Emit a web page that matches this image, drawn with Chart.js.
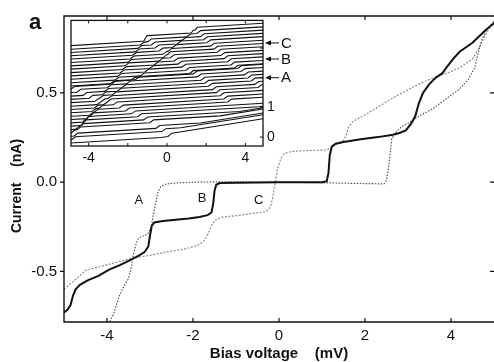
<!DOCTYPE html>
<html>
<head>
<meta charset="utf-8">
<script src="https://cdn.jsdelivr.net/npm/chart.js@4.4.1/dist/chart.umd.min.js"></script>
<style>
  html, body { margin: 0; padding: 0; background: #fff; }
  #wrap { position: relative; width: 494px; height: 362px; overflow: hidden; }
  #main { position: absolute; left: 0; top: 0; }
  #inset { position: absolute; left: 60px; top: 8px; }
</style>
</head>
<body>
<div id="wrap">
  <canvas id="main" width="494" height="362"></canvas>
  <canvas id="inset" width="240" height="162"></canvas>
</div>
<script>
// Main panel: three I-V traces, [bias mV, current nA]
const curveB = [[-5.0,-0.73],[-4.92,-0.715],[-4.85,-0.69],[-4.79,-0.635],[-4.73,-0.6],[-4.63,-0.575],[-4.45,-0.55],
  [-4.2,-0.525],[-3.95,-0.49],[-3.7,-0.465],[-3.45,-0.435],[-3.25,-0.41],[-3.12,-0.39],[-3.04,-0.36],[-3.0,-0.3],
  [-2.96,-0.245],[-2.9,-0.226],[-2.7,-0.218],[-2.4,-0.21],[-2.1,-0.203],[-1.85,-0.195],[-1.66,-0.185],[-1.57,-0.17],
  [-1.53,-0.12],[-1.5,-0.05],[-1.46,-0.015],[-1.38,-0.005],[-1.0,-0.003],[0.0,0.0],[1.0,0.0],[1.11,0.005],[1.15,0.05],
  [1.18,0.15],[1.23,0.2],[1.32,0.215],[1.5,0.225],[1.9,0.24],[2.3,0.252],[2.65,0.265],[2.8,0.275],[2.95,0.29],
  [3.08,0.33],[3.17,0.37],[3.25,0.44],[3.35,0.5],[3.5,0.55],[3.65,0.585],[3.8,0.61],[3.92,0.65],[4.05,0.69],
  [4.2,0.73],[4.5,0.78],[4.8,0.85],[5.0,0.89]];
const curveA = [[-4.0,-0.81],[-3.85,-0.74],[-3.72,-0.64],[-3.6,-0.58],[-3.5,-0.54],[-3.43,-0.47],[-3.38,-0.4],
  [-3.33,-0.35],[-3.27,-0.315],[-3.15,-0.3],[-3.05,-0.29],[-2.97,-0.25],[-2.92,-0.18],[-2.87,-0.12],[-2.82,-0.06],
  [-2.75,-0.025],[-2.62,-0.01],[-2.3,-0.003],[-1.5,0.002],[0,0.0],[1.1,-0.004],[2.0,-0.008],[2.44,-0.01],[2.5,0.01],
  [2.54,0.07],[2.58,0.15],[2.62,0.24],[2.7,0.275],[2.85,0.31],[3.0,0.33],[3.26,0.37],[3.57,0.41],[3.88,0.465],
  [4.19,0.52],[4.4,0.575],[4.55,0.64],[4.63,0.72],[4.72,0.8],[4.82,0.85],[5.0,0.9]];
const curveC = [[-5.0,-0.6],[-4.8,-0.56],[-4.5,-0.495],[-4.2,-0.475],[-3.8,-0.45],[-3.4,-0.425],[-3.0,-0.41],
  [-2.6,-0.39],[-2.2,-0.375],[-1.9,-0.355],[-1.75,-0.33],[-1.65,-0.29],[-1.55,-0.235],[-1.45,-0.205],[-1.3,-0.195],
  [-1.0,-0.188],[-0.6,-0.175],[-0.3,-0.165],[-0.2,-0.14],[-0.14,-0.08],[-0.09,0.0],[-0.03,0.08],[0.04,0.13],
  [0.12,0.16],[0.3,0.172],[0.7,0.177],[1.1,0.18],[1.2,0.19],[1.35,0.215],[1.5,0.235],[1.56,0.26],[1.62,0.31],
  [1.72,0.34],[2.1,0.39],[2.5,0.45],[2.9,0.505],[3.26,0.55],[3.65,0.59],[3.9,0.61],[4.2,0.64],[4.5,0.69],
  [4.65,0.75],[4.75,0.8],[4.85,0.845],[5.0,0.9]];

const biasTicks = [-4, -2, 0, 2, 4];
const currentTicks = [-0.5, 0.0, 0.5];
const curveNames = ['A', 'B', 'C'];
const curveNameAt = [[-3.26, -0.1], [-1.79, -0.094], [-0.47, -0.1]];

// Inset: 30 stacked traces, left-end level of each, plus where each one jogs up
const insetOffsets = [-0.20,-0.09,0.03,0.14,0.25,0.37,0.48,0.59,0.70,0.82,0.93,1.04,1.16,1.27,1.38,
  1.50,1.61,1.72,1.83,1.95,2.06,2.17,2.29,2.40,2.51,2.63,2.74,2.85,2.96,3.08];
const insetP1 = [null,-4.77,-4.64,-4.51,-4.38,-4.25,-4.12,-3.99,-3.86,-3.73,-3.60,-3.47,-3.34,-3.21,-3.08,
  -2.95,-2.82,-2.69,-2.56,-2.43,-2.30,-2.17,-2.04,-1.91,-1.78,-1.65,-1.52,-1.39,-1.26,-1.13];
const insetP2 = [null,null,null,-4.80,-4.57,-4.33,-4.10,-3.86,-3.62,-3.39,-3.15,-2.92,-2.68,-2.44,-2.21,
  -1.97,-1.74,-1.50,-1.26,-1.03,-0.79,-0.56,-0.32,-0.08,0.15,0.39,0.62,0.86,1.10,1.33];
const insetN1a = [null,null,null,null,null,null,null,null,null,null,4.75,4.58,4.40,4.23,4.05,
  3.88,3.71,3.53,3.36,3.19,3.01,2.84,2.66,2.49,2.32,2.14,1.97,1.80,1.62,1.45];
const insetN1b = [null,null,null,null,null,null,null,3.20,3.00,2.81,2.61,2.42,2.22,2.03,1.83,
  1.64,1.44,1.25,1.05,0.86,0.66,0.47,0.27,0.08,-0.12,-0.31,-0.51,-0.70,-0.90,-1.09];
const insetN2 = [0.15,-0.16,-0.47,-0.78,-1.09,-1.40,-1.71,-2.02,-2.33,-2.64,-2.95,-3.26,-3.57,-3.88,-4.19,
  -4.50,-4.81,null,null,null,null,null,null,null,null,null,null,null,null,null];
const insetKink = [-0.3,0.7,1.7,2.7,3.7,4.7,null,null,null,null,null,null,null,null,null,
  null,null,null,null,null,null,null,null,null,null,null,null,null,null,null];
const insetSlope = 0.04;
const insetStepHeight = 0.09;
const insetKinkSlope = 0.065;
const insetXMin = -4.9, insetXMax = 4.9;
const insetBiasTicks = [-4, 0, 4];
const insetLevelTicks = [0, 1];
const arrowNames = ['A', 'B', 'C'];
const arrowLevels = [2.0, 2.63, 3.17];

const FONT = '"Liberation Sans", Arial, Helvetica, sans-serif';
const INK = '#111';

function toPoints(pairs) {
  return pairs.map(p => ({ x: p[0], y: p[1] }));
}

function buildInsetCurve(k) {
  const steps = [insetP1[k], insetP2[k], insetN1a[k], insetN1b[k], insetN2[k]]
    .filter(v => v !== null && v > insetXMin && v < insetXMax);
  const kink = insetKink[k];
  const level = x => {
    let y = insetOffsets[k] + insetSlope * (x - insetXMin);
    steps.forEach(s => { if (x > s) y += insetStepHeight; });
    if (kink !== null && x > kink) y += insetKinkSlope * (x - kink);
    return y;
  };
  const xs = [insetXMin, insetXMax];
  steps.forEach(s => xs.push(s - 0.1, s + 0.1));
  if (kink !== null) xs.push(kink);
  return xs.filter(x => x >= insetXMin && x <= insetXMax)
    .sort((a, b) => a - b)
    .map(x => ({ x: x, y: level(x) }));
}

// frame, inward ticks and the text bits that Chart.js has no slot for
const mainExtras = {
  id: 'mainExtras',
  afterDraw(chart) {
    const { ctx, chartArea: a, scales: { x, y } } = chart;
    ctx.save();
    ctx.strokeStyle = INK;
    ctx.lineWidth = 1.4;
    ctx.beginPath();
    ctx.moveTo(a.right, a.top); ctx.lineTo(a.left, a.top);
    ctx.lineTo(a.left, a.bottom); ctx.lineTo(a.right, a.bottom);
    ctx.stroke();

    ctx.lineWidth = 1.2;
    ctx.beginPath();
    biasTicks.forEach(v => {
      const px = x.getPixelForValue(v);
      ctx.moveTo(px, a.bottom); ctx.lineTo(px, a.bottom - 4);
      ctx.moveTo(px, a.top); ctx.lineTo(px, a.top + 4);
    });
    currentTicks.forEach(v => {
      const py = y.getPixelForValue(v);
      ctx.moveTo(a.left - 4, py); ctx.lineTo(a.left, py);
      ctx.moveTo(a.right, py); ctx.lineTo(a.right - 4, py);
    });
    ctx.stroke();

    ctx.fillStyle = INK;
    ctx.font = '13px ' + FONT;
    ctx.textAlign = 'center';
    ctx.textBaseline = 'middle';
    curveNames.forEach((n, i) => {
      ctx.fillText(n, x.getPixelForValue(curveNameAt[i][0]), y.getPixelForValue(curveNameAt[i][1]));
    });

    ctx.font = 'bold 22px ' + FONT;
    ctx.textBaseline = 'alphabetic';
    ctx.fillText('a', 35, 29);

    ctx.translate(17.5, 186);
    ctx.rotate(-Math.PI / 2);
    ctx.font = 'bold 14px ' + FONT;
    ctx.textBaseline = 'middle';
    ctx.fillText('Current    (nA)', 0, 0);
    ctx.restore();
  }
};

const insetExtras = {
  id: 'insetExtras',
  afterDraw(chart) {
    const { ctx, chartArea: a, scales: { x, y } } = chart;
    ctx.save();
    ctx.strokeStyle = INK;
    ctx.lineWidth = 1.3;
    ctx.strokeRect(a.left, a.top, a.right - a.left, a.bottom - a.top);

    ctx.lineWidth = 1;
    ctx.beginPath();
    [-4, -2, 0, 2, 4].forEach(v => {
      const px = x.getPixelForValue(v);
      ctx.moveTo(px, a.bottom); ctx.lineTo(px, a.bottom - 3);
      ctx.moveTo(px, a.top); ctx.lineTo(px, a.top + 3);
    });
    [0, 1, 2, 3].forEach(v => {
      const py = y.getPixelForValue(v);
      ctx.moveTo(a.right, py); ctx.lineTo(a.right - 3, py);
    });
    ctx.stroke();

    ctx.fillStyle = INK;
    ctx.font = '15px ' + FONT;
    ctx.textAlign = 'left';
    ctx.textBaseline = 'middle';
    arrowNames.forEach((n, i) => {
      const py = y.getPixelForValue(arrowLevels[i]);
      const x0 = a.right + 2;
      ctx.beginPath();
      ctx.moveTo(x0 + 4, py); ctx.lineTo(x0 + 14, py);
      ctx.stroke();
      ctx.beginPath();
      ctx.moveTo(x0, py); ctx.lineTo(x0 + 6, py - 2.6); ctx.lineTo(x0 + 6, py + 2.6);
      ctx.closePath();
      ctx.fill();
      ctx.fillText(n, x0 + 16, py + 0.5);
    });
    ctx.restore();
  }
};

const tickFont = size => ({ family: FONT, size: size });
const noGrid = { display: false, drawTicks: false };

new Chart(document.getElementById('main'), {
  type: 'line',
  data: {
    datasets: [
      { label: 'B', data: toPoints(curveB), borderColor: '#111', borderWidth: 2 },
      { label: 'A', data: toPoints(curveA), borderColor: '#555', borderWidth: 1.2, borderDash: [1.5, 1.5] },
      { label: 'C', data: toPoints(curveC), borderColor: '#8c8c8c', borderWidth: 1.2, borderDash: [2, 1.5] }
    ]
  },
  options: {
    responsive: false,
    devicePixelRatio: 1,
    animation: false,
    layout: { padding: { top: 13, left: 0, right: 0, bottom: 0 } },
    elements: { point: { radius: 0 }, line: { tension: 0 } },
    plugins: { legend: { display: false }, tooltip: { enabled: false } },
    scales: {
      x: {
        type: 'linear', min: -5, max: 5,
        grid: noGrid, border: { display: false },
        afterBuildTicks: s => { s.ticks = biasTicks.map(v => ({ value: v })); },
        afterFit: s => { s.height = 40; },
        ticks: { padding: 5, color: INK, font: tickFont(15), maxRotation: 0, autoSkip: false,
                 callback: v => String(v) },
        title: { display: true, text: 'Bias voltage    (mV)', color: INK,
                 font: { family: FONT, size: 15, weight: 'bold' }, padding: { top: 0, bottom: -1 } }
      },
      y: {
        type: 'linear', min: -0.783, max: 0.93,
        grid: noGrid, border: { display: false },
        afterBuildTicks: s => { s.ticks = currentTicks.map(v => ({ value: v })); },
        afterFit: s => { s.width = 64; },
        ticks: { padding: 7, color: INK, font: tickFont(15), callback: v => Number(v).toFixed(1) }
      }
    }
  },
  plugins: [mainExtras]
});

const insetSets = insetOffsets.map((o, k) => ({
  data: buildInsetCurve(k), borderColor: '#111', borderWidth: 1.1
}));

new Chart(document.getElementById('inset'), {
  type: 'line',
  data: { datasets: insetSets },
  options: {
    responsive: false,
    devicePixelRatio: 1,
    animation: false,
    layout: { padding: { top: 11, left: 11, right: 0, bottom: 0 } },
    elements: { point: { radius: 0 }, line: { tension: 0 } },
    plugins: { legend: { display: false }, tooltip: { enabled: false } },
    scales: {
      x: {
        type: 'linear', min: insetXMin, max: insetXMax,
        grid: noGrid, border: { display: false },
        afterBuildTicks: s => { s.ticks = insetBiasTicks.map(v => ({ value: v })); },
        afterFit: s => { s.height = 24; },
        ticks: { padding: 4, color: INK, font: tickFont(14), maxRotation: 0, autoSkip: false,
                 callback: v => String(v) }
      },
      y: {
        type: 'linear', position: 'right', min: -0.3, max: 3.93,
        grid: noGrid, border: { display: false },
        afterBuildTicks: s => { s.ticks = insetLevelTicks.map(v => ({ value: v })); },
        afterFit: s => { s.width = 37; },
        ticks: { padding: 4, color: INK, font: tickFont(14), callback: v => String(v) }
      }
    }
  },
  plugins: [insetExtras]
});
</script>
</body>
</html>
